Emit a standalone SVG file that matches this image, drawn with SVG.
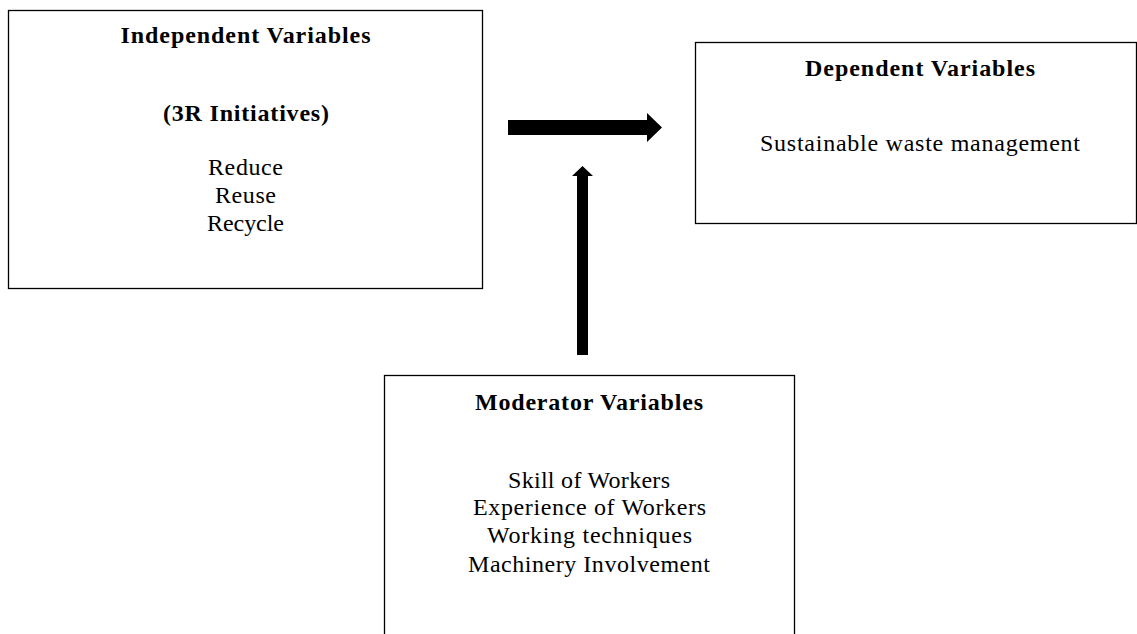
<svg xmlns="http://www.w3.org/2000/svg" width="1137" height="634" viewBox="0 0 1137 634">
<style>
.box{fill:#fff;stroke:#000;stroke-width:1.3}
.t{font-family:"Liberation Serif","Times New Roman",serif;font-size:24px;fill:#000;text-anchor:middle}
.b{font-weight:bold}
.arr{fill:#000;stroke:none}
</style>
<rect width="1137" height="634" fill="#fff"/>
<g id="independent">
<rect class="box" x="8.5" y="10.5" width="474" height="278"/>
<text class="t b" x="245.5" y="43" textLength="250" lengthAdjust="spacing">Independent Variables</text>
<text class="t b" x="246" y="121" textLength="166" lengthAdjust="spacing">(3R Initiatives)</text>
<text class="t" x="245.5" y="175" textLength="75" lengthAdjust="spacing">Reduce</text>
<text class="t" x="245.5" y="203" textLength="61" lengthAdjust="spacing">Reuse</text>
<text class="t" x="245.5" y="231" textLength="77" lengthAdjust="spacing">Recycle</text>
</g>
<g id="dependent">
<rect class="box" x="695.5" y="42.5" width="441" height="181"/>
<text class="t b" x="920" y="76" textLength="230" lengthAdjust="spacing">Dependent Variables</text>
<text class="t" x="920" y="151" textLength="320" lengthAdjust="spacing">Sustainable waste management</text>
</g>
<g id="moderator">
<rect class="box" x="384.5" y="375.5" width="410" height="270"/>
<text class="t b" x="589" y="410" textLength="228" lengthAdjust="spacing">Moderator Variables</text>
<text class="t" x="589" y="488" textLength="162" lengthAdjust="spacing">Skill of Workers</text>
<text class="t" x="589.5" y="515" textLength="233" lengthAdjust="spacing">Experience of Workers</text>
<text class="t" x="589.5" y="543" textLength="205" lengthAdjust="spacing">Working techniques</text>
<text class="t" x="589" y="572" textLength="242" lengthAdjust="spacing">Machinery Involvement</text>
</g>
<g id="connectors">
<polygon class="arr" points="508,120 647,120 647,113 662,127.5 647,142 647,135 508,135"/>
<polygon class="arr" points="577,355 577,176 572,176 582.5,166 593,176 588,176 588,355"/>
</g>
</svg>
